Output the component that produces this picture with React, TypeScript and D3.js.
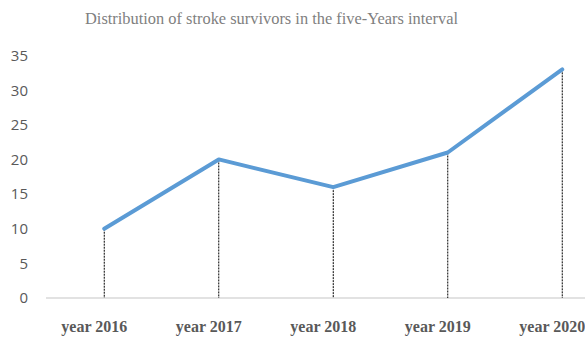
import React from "react";
import * as d3 from "d3";

const categories = ["year 2016", "year 2017", "year 2018", "year 2019", "year 2020"];
const survivors = [10, 20, 16, 21, 33];
const yTicks = [0, 5, 10, 15, 20, 25, 30, 35];
const title = "Distribution of stroke survivors in the five-Years interval";

const W = 585;
const H = 338;

export default function App() {
  const x = d3.scaleBand<string>().domain(categories).range([47, 619.5]);
  const y = d3.scaleLinear().domain([0, 35]).range([298, 55.5]);
  const cx = (c: string) => (x(c) ?? 0) + x.bandwidth() / 2;

  const line = d3
    .line<number>()
    .x((_, i) => cx(categories[i]))
    .y((d) => y(d));

  return (
    <svg
      width={W}
      height={H}
      style={{ position: "absolute", left: 0, top: 0, background: "#fff" }}
    >
      <text
        x={271.5}
        y={24}
        textAnchor="middle"
        fontFamily="'Liberation Serif', 'Times New Roman', serif"
        fontSize={16.4}
        fill="#7f7f7f"
      >
        {title}
      </text>

      {yTicks.map((t) => (
        <text
          key={t}
          x={28}
          y={y(t)}
          dy="0.36em"
          textAnchor="end"
          fontFamily="'Open Sans', 'Noto Sans', sans-serif"
          fontSize={15}
          fill="#595959"
        >
          {t}
        </text>
      ))}

      <line x1={46} x2={W} y1={y(0)} y2={y(0)} stroke="#d9d9d9" strokeWidth={1.5} />

      {survivors.map((v, i) => (
        <line
          key={categories[i]}
          x1={cx(categories[i])}
          x2={cx(categories[i])}
          y1={y(v)}
          y2={y(0)}
          stroke="#000"
          strokeWidth={1}
          strokeDasharray="2,1"
        />
      ))}

      <path
        d={line(survivors) ?? ""}
        fill="none"
        stroke="#5b9bd5"
        strokeWidth={4}
        strokeLinejoin="round"
        strokeLinecap="round"
      />

      {categories.map((c) => (
        <text
          key={c}
          x={cx(c) - 10}
          y={332}
          textAnchor="middle"
          fontFamily="'Liberation Serif', 'Times New Roman', serif"
          fontWeight="bold"
          fontSize={16}
          fill="#595959"
        >
          {c}
        </text>
      ))}
    </svg>
  );
}
